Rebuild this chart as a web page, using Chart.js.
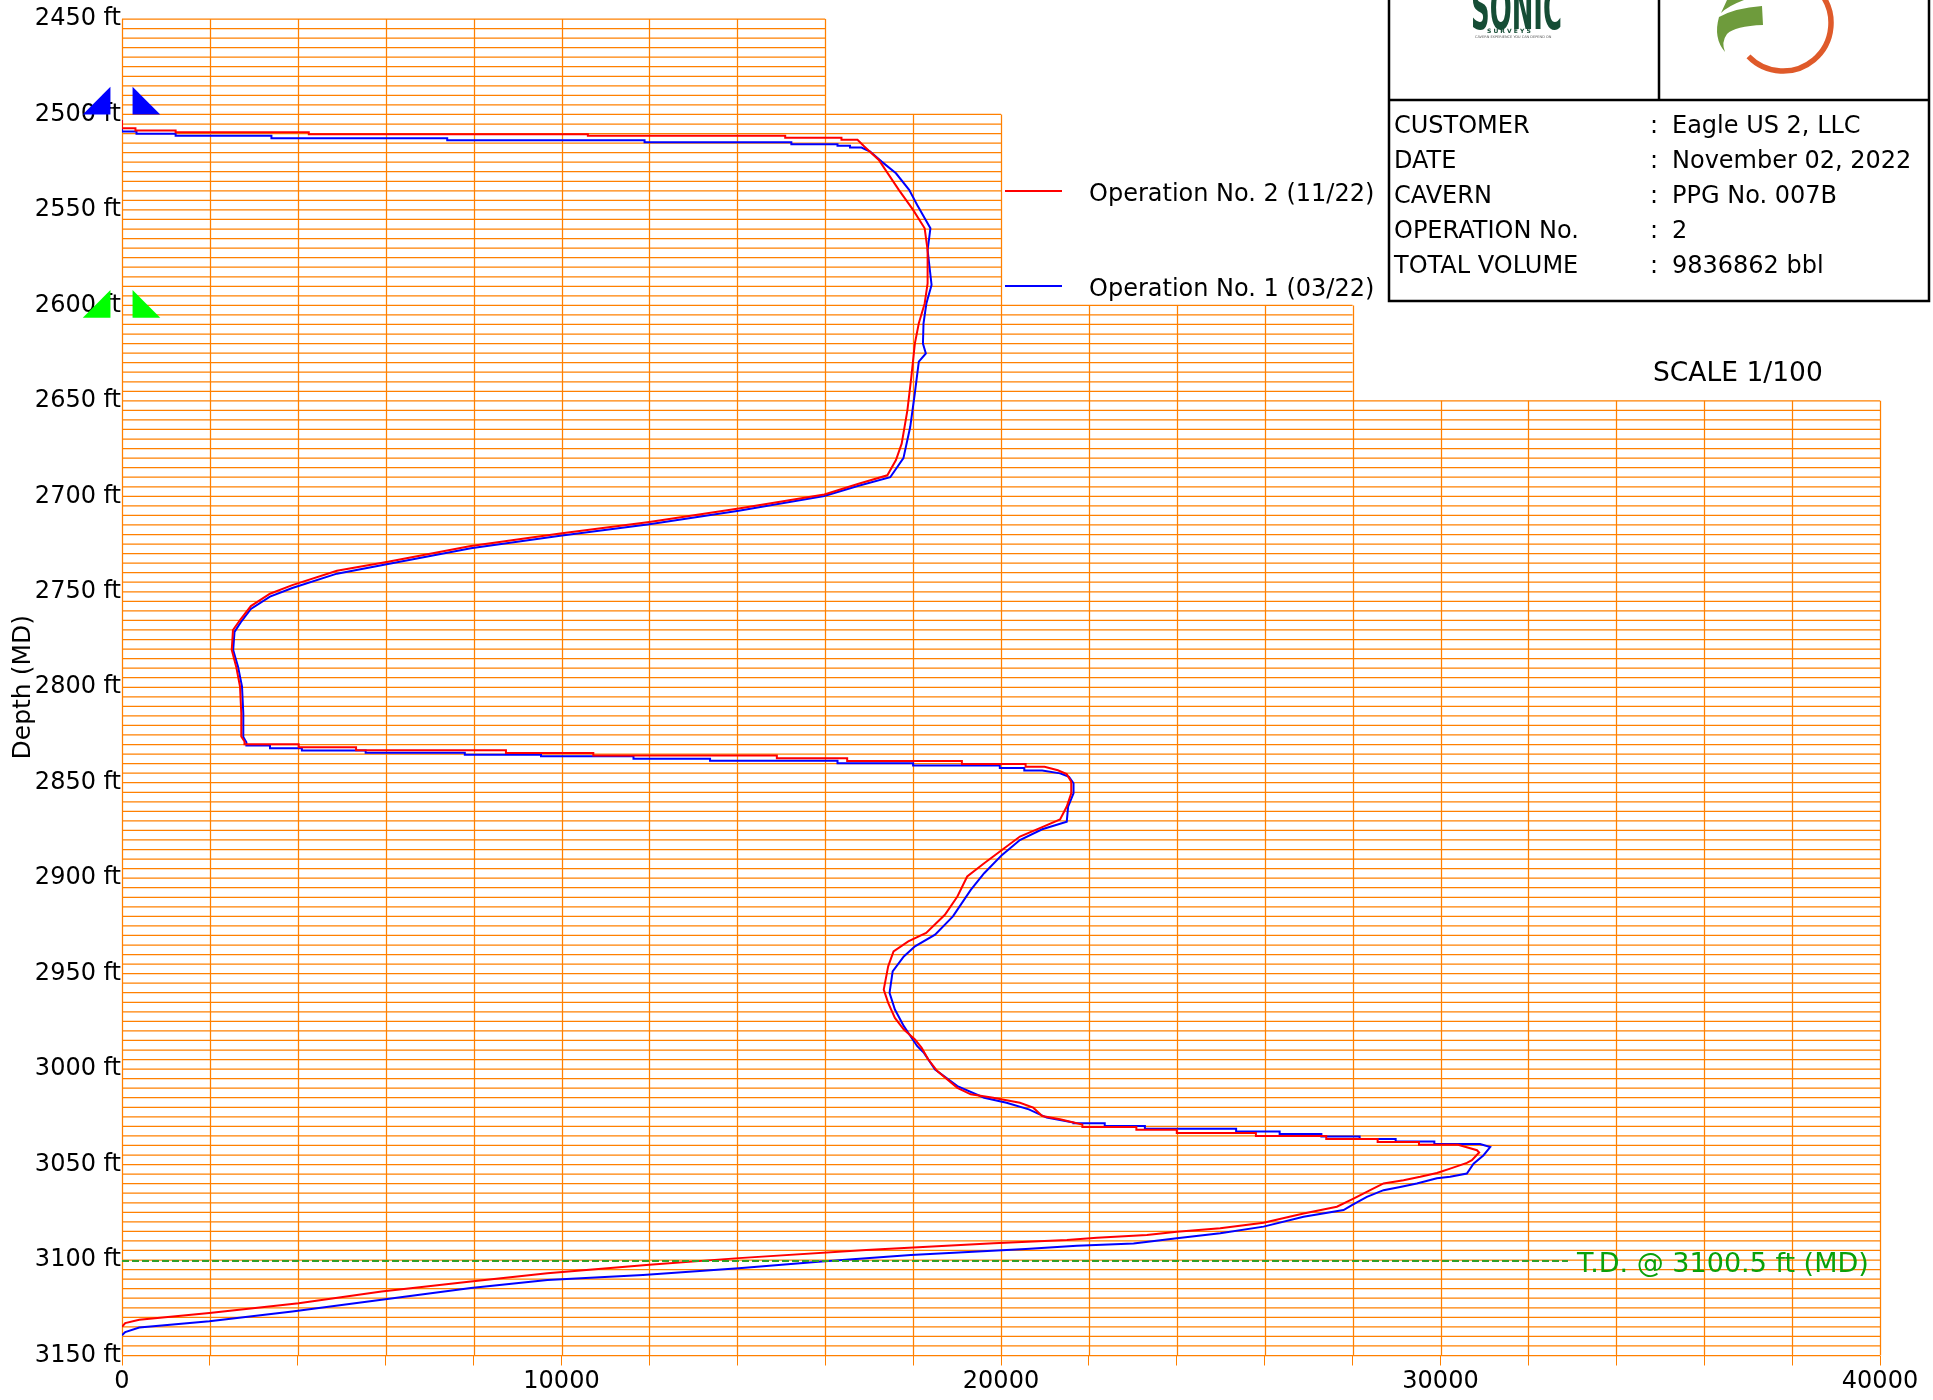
<!DOCTYPE html>
<html>
<head>
<meta charset="utf-8">
<script src="https://cdn.jsdelivr.net/npm/chart.js@4.4.0/dist/chart.umd.min.js"></script>
<style>
  html, body { margin: 0; padding: 0; background: #fff; }
</style>
</head>
<body>
<canvas id="graficoCaverna" width="1933" height="1400"></canvas>
<script>
// rangos de ejes
const depthRange = [2450, 3150];
const valueRange = [0, 40000];
const depthStep = 50;
const valueStep = 2000;
const valueLabelStep = 10000;

// rejilla escalonada: desde que profundidad llega la rejilla hasta que valor
const gridTopDepth = [2450, 2500, 2600, 2650];
const gridRightValue = [16000, 20000, 28000, 40000];
const gridMinorDepth = 5;

// marcadores (zapatas) y fondo del pozo
const shoeDepths = [2500, 2606.5];
const shoeColors = ['#0000FF', '#00FF00'];
const tdDepth = 3100.5;
const tdEndValue = 32900;

const seriesNames = ['Operation No. 2 (11/22)', 'Operation No. 1 (03/22)'];

// [valor, profundidad]
const op2Points = [
  [0,2503],[0,2507.2],[306,2507.2],[306,2508.4],[1220,2508.4],[1220,2509.3],[4250,2509.3],[4250,2510.3],
  [10600,2510.3],[10600,2511.2],[15090,2511.2],[15090,2512.2],[16370,2512.2],[16370,2513.3],[16735,2513.3],
  [16890,2516.8],[17220,2523.8],[17675,2539.5],[18000,2550],[18263,2559.6],[18330,2571],[18330,2588.5],
  [18263,2599],[18130,2609.4],[18040,2620],[17960,2637.4],[17870,2655],[17740,2672.4],[17610,2681],
  [17414,2689],[16760,2693.4],[15980,2699],[14032,2706.4],[11999,2713.4],[9969,2719.5],[7938,2726],
  [6052,2734.3],[4890,2739],[3875,2746.5],[3367,2751],[2932,2757.5],[2685,2764.8],[2525,2770],
  [2497,2780.5],[2598,2789.2],[2685,2799.6],[2714,2813.6],[2714,2825.8],[2787,2828.4],
  [2787,2829.8],[4020,2829.8],[4020,2831.4],[5326,2831.4],[5326,2833.0],[8736,2833.0],[8736,2834.4],
  [10724,2834.4],[10724,2835.8],[14900,2835.8],[14900,2837.2],[16500,2837.2],[16500,2838.6],[19110,2838.6],
  [19110,2840.2],[20560,2840.2],[20560,2841.6],[20990,2841.6],
  [21293,2843.5],[21496,2845.5],[21598,2849.5],[21598,2855.6],[21496,2862.5],[21344,2869.2],[20937,2873.3],
  [20430,2878.2],[20074,2884.3],[19617,2892.2],[19231,2899.1],[19008,2909.6],[18723,2919.2],[18297,2928.7],
  [17890,2933.1],[17555,2938.3],[17433,2946.2],[17332,2958.4],[17433,2965.3],[17586,2973.2],[17789,2979.3],
  [18043,2984.5],[18195,2988.9],[18347,2995],[18550,3001],[19007,3009.8],[19312,3013.2],[19820,3015],
  [20430,3017.6],[20734,3020.2],[20937,3024.6],[21343,3026.3],[21851,3029],
  [21851,3030.3],[23080,3030.3],[23080,3031.8],[24000,3031.8],[24000,3033.4],[25800,3033.4],[25800,3035],
  [27400,3035],[27400,3036.6],[28570,3036.6],[28570,3038.2],[29510,3038.2],[29510,3039.6],[30400,3039.6],
  [30830,3042.5],[30880,3043.7],[30714,3047.7],[30600,3049.1],[30220,3052.1],[29918,3054.4],[29540,3056.4],
  [29159,3058.2],[28704,3059.9],[28400,3063.4],[28021,3067.8],[27642,3072.1],[26884,3075.6],[25974,3080.5],
  [24988,3083.4],[24002,3085.2],[23319,3086.9],[22182,3088.3],[21500,3089.5],[19836,3091.2],[16934,3094.7],
  [14032,3099],[11999,3102.5],[9679,3106.9],[7938,3111.3],[5906,3116.5],[4020,3122.6],[1989,3127.8],
  [393,3131.3],[73,3133],[0,3135]
];

const op1Points = [
  [0,2503],[0,2508.9],[330,2508.9],[330,2510.1],[1220,2510.1],[1220,2511.2],[3400,2511.2],[3400,2512.4],
  [7400,2512.4],[7400,2513.5],[11890,2513.5],[11890,2514.5],[15230,2514.5],[15230,2515.6],[16280,2515.6],
  [16280,2516.4],[16565,2516.4],[16565,2517.3],[16825,2517.3],
  [17022,2519.4],[17284,2524.7],[17610,2530.8],[17910,2539.5],[18093,2547.4],[18394,2559.6],[18330,2571],
  [18420,2589.3],[18302,2599],[18237,2609.4],[18224,2620],[18290,2625.2],[18130,2629.5],[18040,2646],
  [17935,2663.6],[17780,2680],[17480,2690],[16760,2694.5],[15980,2699.8],[14032,2707.6],[11999,2714.6],
  [9969,2720.7],[7938,2727.2],[6052,2735.5],[4890,2740.5],[3875,2748],[3367,2752.5],[2932,2759],
  [2700,2766],[2560,2771],[2530,2780.5],[2640,2789.2],[2730,2799.6],[2760,2813.6],[2760,2826],[2830,2828.8],
  [2830,2830.5],[3367,2830.5],[3367,2831.9],[4093,2831.9],[4093,2833.1],[5544,2833.1],[5544,2834.3],
  [7800,2834.3],[7800,2835.4],[9534,2835.4],[9534,2836.2],[11638,2836.2],[11638,2837.5],[13380,2837.5],
  [13380,2838.5],[16280,2838.5],[16280,2839.8],[18000,2839.8],[18000,2841],[19973,2841],[19973,2842.3],
  [20530,2842.3],[20530,2843.6],[20937,2843.6],
  [21344,2845.1],[21547,2846.9],[21650,2850.3],[21650,2855.6],[21527,2862.5],[21496,2870.4],[20937,2874.4],
  [20430,2880],[20024,2887.8],[19617,2897.4],[19312,2906.1],[18906,2920],[18500,2929.6],[18043,2935.7],
  [17789,2941],[17535,2948.8],[17464,2960.1],[17586,2968.8],[17789,2977.5],[18094,2988],[18246,2991.5],
  [18500,3000.2],[19008,3008.9],[19617,3015],[20125,3017.6],[20633,3021.1],[21039,3025.4],[21648,3028],
  [21648,3028.4],[22360,3028.4],[22360,3029.8],[23274,3029.8],[23274,3031.2],[25350,3031.2],[25350,3032.7],
  [26340,3032.7],[26340,3034],[27290,3034],[27290,3035.3],[28160,3035.3],[28160,3036.6],[28980,3036.6],
  [28980,3037.9],[29860,3037.9],[29860,3039.2],[30900,3039.2],
  [31131,3040.8],[30980,3045.1],[30752,3049.5],[30600,3054.7],[30220,3056.4],[29918,3057.2],[29462,3059.9],
  [29083,3061.7],[28704,3063.4],[28325,3066.9],[27984,3071.2],[27794,3073.8],[26884,3077.3],[25974,3082.5],
  [24988,3086],[24002,3088.6],[23016,3091.3],[21727,3092.5],[20562,3094.2],[17950,3097.3],[15919,3100.8],
  [14032,3104.3],[11855,3107.8],[9679,3110.4],[7938,3114.7],[5906,3120.8],[3875,3126.9],[1989,3132.1],
  [393,3135.3],[73,3137.7],[0,3139.4]
];

// tabla de datos del informe
const infoLabels = ['CUSTOMER', 'DATE', 'CAVERN', 'OPERATION No.', 'TOTAL VOLUME'];
const infoValues = ['Eagle US 2, LLC', 'November 02, 2022', 'PPG No. 007B', '2', '9836862 bbl'];
const scaleText = 'SCALE 1/100';

const FONT = '"DejaVu Sans", Verdana, sans-serif';
const NARANJA = '#FF8000';

function toXY(arr) {
  return arr.map(p => ({ x: p[0], y: p[1] }));
}

// rejilla escalonada
const rejillaPlugin = {
  id: 'rejilla',
  beforeDatasetsDraw(chart) {
    const ctx = chart.ctx;
    const xs = chart.scales.x, ys = chart.scales.y;
    ctx.save();
    ctx.strokeStyle = NARANJA;
    ctx.lineWidth = 1.25;
    for (let d = depthRange[0]; d <= depthRange[1]; d += gridMinorDepth) {
      let right = gridRightValue[0];
      for (let i = 0; i < gridTopDepth.length; i++) {
        if (d >= gridTopDepth[i]) right = gridRightValue[i];
      }
      const y = ys.getPixelForValue(d);
      ctx.beginPath();
      ctx.moveTo(xs.getPixelForValue(valueRange[0]), y);
      ctx.lineTo(xs.getPixelForValue(right), y);
      ctx.stroke();
    }
    for (let v = valueRange[0]; v <= valueRange[1]; v += valueStep) {
      let top = gridTopDepth[gridTopDepth.length - 1];
      for (let i = gridTopDepth.length - 1; i >= 0; i--) {
        if (v <= gridRightValue[i]) top = gridTopDepth[i];
      }
      const x = Math.round(xs.getPixelForValue(v)) + 0.5;
      ctx.beginPath();
      ctx.moveTo(x, ys.getPixelForValue(top));
      ctx.lineTo(x, ys.getPixelForValue(depthRange[1]));
      ctx.stroke();
    }
    ctx.restore();
  },
  afterDatasetsDraw(chart) {
    const ctx = chart.ctx;
    const xs = chart.scales.x, ys = chart.scales.y;
    const y = ys.getPixelForValue(tdDepth);
    ctx.save();
    ctx.strokeStyle = 'rgb(50,160,40)';
    ctx.lineWidth = 2;
    ctx.setLineDash([7, 3]);
    ctx.beginPath();
    ctx.moveTo(xs.getPixelForValue(0), y);
    ctx.lineTo(xs.getPixelForValue(tdEndValue), y);
    ctx.stroke();
    ctx.setLineDash([]);
    ctx.fillStyle = 'rgb(10,160,10)';
    ctx.font = '27px ' + FONT;
    ctx.textBaseline = 'alphabetic';
    ctx.fillText('T.D. @ ' + tdDepth + ' ft (MD)', xs.getPixelForValue(tdEndValue) + 9, y + 11);
    ctx.restore();
  }
};

// marcadores, leyenda y cuadro de informacion
const extrasPlugin = {
  id: 'extras',
  afterDraw(chart) {
    const ctx = chart.ctx;
    const xs = chart.scales.x, ys = chart.scales.y;
    const x0 = xs.getPixelForValue(0);
    ctx.save();

    // triangulos de zapata
    shoeDepths.forEach((d, i) => {
      const yb = ys.getPixelForValue(d);
      const yt = ys.getPixelForValue(d - 14.5);
      const a = xs.getPixelForValue(240) - x0;
      const b = xs.getPixelForValue(870) - x0;
      ctx.fillStyle = shoeColors[i];
      ctx.beginPath();
      ctx.moveTo(x0 + a, yt); ctx.lineTo(x0 + a, yb); ctx.lineTo(x0 + b, yb); ctx.closePath();
      ctx.fill();
      ctx.beginPath();
      ctx.moveTo(x0 - a - 1, yt); ctx.lineTo(x0 - a - 1, yb); ctx.lineTo(x0 - b - 1, yb); ctx.closePath();
      ctx.fill();
    });

    // leyenda
    const legendY = [191, 286];
    const legendColors = ['#FF0000', '#0000FF'];
    ctx.font = '24px ' + FONT;
    ctx.fillStyle = '#000';
    ctx.textBaseline = 'alphabetic';
    seriesNames.forEach((n, i) => {
      ctx.strokeStyle = legendColors[i];
      ctx.lineWidth = 2;
      ctx.beginPath();
      ctx.moveTo(1005, legendY[i]); ctx.lineTo(1062, legendY[i]);
      ctx.stroke();
      ctx.fillText(n, 1089, legendY[i] + 10);
    });

    // cuadro
    ctx.strokeStyle = '#000';
    ctx.lineWidth = 2.5;
    ctx.strokeRect(1389, -5, 540, 306);
    ctx.beginPath();
    ctx.moveTo(1389, 100); ctx.lineTo(1929, 100);
    ctx.moveTo(1659, -5); ctx.lineTo(1659, 100);
    ctx.stroke();

    infoLabels.forEach((l, i) => {
      const by = 133 + i * 35;
      ctx.fillText(l, 1394, by);
      ctx.fillText(':', 1650, by);
      ctx.fillText(infoValues[i], 1672, by);
    });

    ctx.font = '26.5px ' + FONT;
    ctx.fillText(scaleText, 1653, 381);

    // logo SONIC
    ctx.fillStyle = '#154d35';
    ctx.font = 'bold 58px "DejaVu Sans Condensed", "DejaVu Sans", sans-serif';
    ctx.fillText('SONIC', 1471, 29, 91);
    ctx.font = 'bold 6px ' + FONT;
    ctx.fillText('S U R V E Y S', 1487, 33, 53);
    ctx.font = '3.5px ' + FONT;
    ctx.fillStyle = '#555';
    ctx.fillText('CAVERN EXPERIENCE YOU CAN DEPEND ON', 1475, 38, 83);

    // logo circular
    ctx.strokeStyle = '#DF5A2A';
    ctx.lineWidth = 5.5;
    ctx.beginPath();
    ctx.arc(1783, 23, 48, -40 * Math.PI / 180, 136 * Math.PI / 180);
    ctx.stroke();
    ctx.fillStyle = '#6E9B3C';
    ctx.beginPath();
    ctx.moveTo(1727, 0); ctx.lineTo(1744, 0);
    ctx.quadraticCurveTo(1728, 6, 1721, 13); ctx.closePath();
    ctx.fill();
    ctx.beginPath();
    ctx.moveTo(1719, 17);
    ctx.quadraticCurveTo(1735, 8, 1762, 6);
    ctx.lineTo(1763, 25);
    ctx.quadraticCurveTo(1735, 26, 1727, 34);
    ctx.quadraticCurveTo(1721, 42, 1725, 52);
    ctx.quadraticCurveTo(1713, 38, 1719, 17);
    ctx.closePath();
    ctx.fill();

    ctx.restore();
  }
};

const ctx = document.getElementById('graficoCaverna').getContext('2d');
new Chart(ctx, {
  type: 'scatter',
  data: {
    datasets: [
      {
        label: seriesNames[0],
        data: toXY(op2Points),
        showLine: true,
        borderColor: '#FF0000',
        borderWidth: 2,
        pointRadius: 0,
        tension: 0,
        order: 0
      },
      {
        label: seriesNames[1],
        data: toXY(op1Points),
        showLine: true,
        borderColor: '#0000FF',
        borderWidth: 2,
        pointRadius: 0,
        tension: 0,
        order: 1
      }
    ]
  },
  options: {
    responsive: false,
    animation: false,
    devicePixelRatio: 1,
    layout: { padding: { left: 0, right: 53, top: 19, bottom: 0 } },
    plugins: {
      legend: { display: false },
      tooltip: { enabled: false }
    },
    scales: {
      x: {
        type: 'linear',
        min: valueRange[0],
        max: valueRange[1],
        afterFit: s => { s.height = 44.5; },
        border: { display: false },
        grid: { drawOnChartArea: false, drawTicks: true, tickLength: 10, color: NARANJA },
        ticks: {
          stepSize: valueStep,
          autoSkip: false,
          maxRotation: 0,
          padding: 2,
          color: '#000',
          font: { family: FONT, size: 24 },
          callback: v => (v % valueLabelStep === 0 ? String(v) : '')
        }
      },
      y: {
        type: 'linear',
        reverse: true,
        min: depthRange[0],
        max: depthRange[1],
        afterFit: s => { s.width = 122; },
        border: { display: false },
        grid: { display: false, drawTicks: false },
        title: { display: true, text: 'Depth (MD)', color: '#000', font: { family: FONT, size: 25 }, padding: { top: 8, bottom: 0 } },
        ticks: {
          stepSize: depthStep,
          autoSkip: false,
          padding: 1,
          color: '#000',
          font: { family: FONT, size: 24 },
          callback: v => v + ' ft'
        }
      }
    }
  },
  plugins: [rejillaPlugin, extrasPlugin]
});
</script>
</body>
</html>
